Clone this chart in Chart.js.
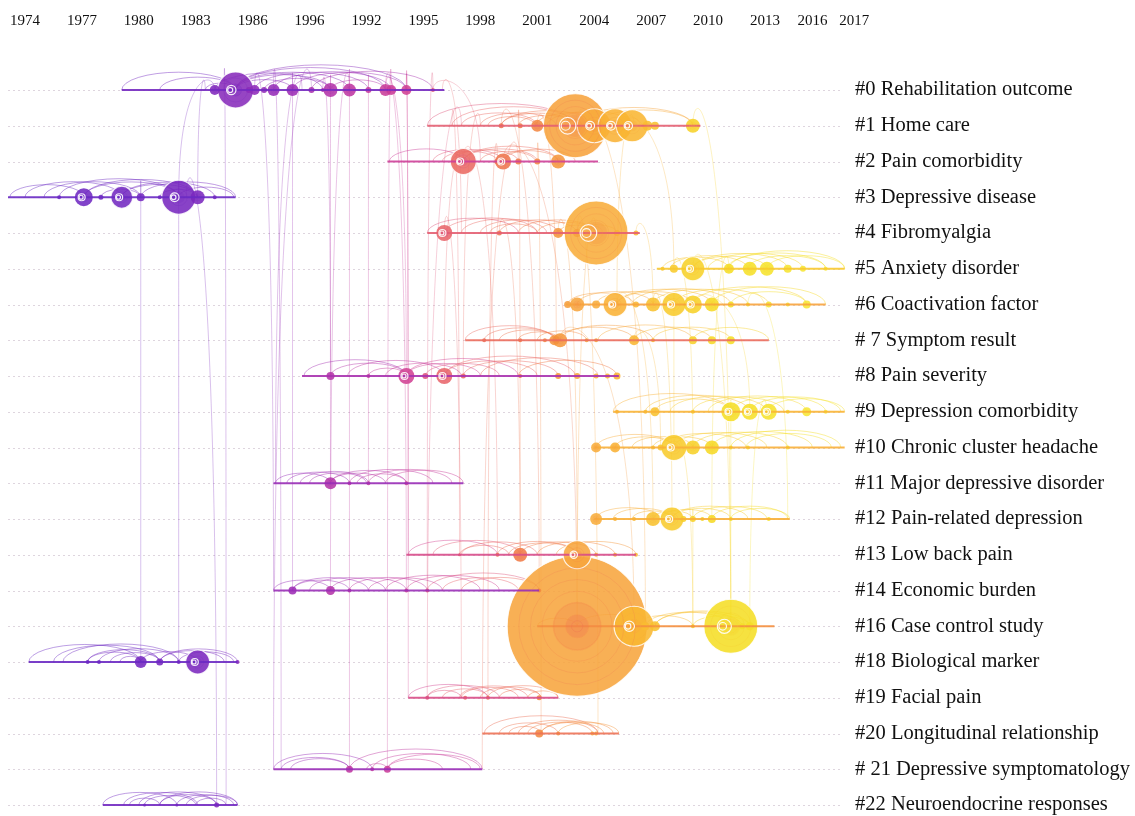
<!DOCTYPE html>
<html>
<head>
<meta charset="utf-8">
<script src="https://cdn.jsdelivr.net/npm/chart.js@4.4.1/dist/chart.umd.min.js"></script>
<style>
  html, body { margin: 0; background: #fff; }
  #wrap { width: 1135px; height: 816px; }
</style>
</head>
<body>
<div id="wrap"><canvas id="timeline"></canvas></div>
<script>
// Cluster timeline (CiteSpace style): one row per cluster, nodes placed by year.
const clusterLabels = [
  '#0 Rehabilitation outcome', '#1 Home care', '#2 Pain comorbidity', '#3 Depressive disease',
  '#4 Fibromyalgia', '#5 Anxiety disorder', '#6 Coactivation factor', '# 7 Symptom result',
  '#8 Pain severity', '#9 Depression comorbidity', '#10 Chronic cluster headache',
  '#11 Major depressive disorder', '#12 Pain-related depression', '#13 Low back pain',
  '#14 Economic burden', '#16 Case control study', '#18 Biological marker', '#19 Facial pain',
  '#20 Longitudinal relationship', '# 21 Depressive symptomatology', '#22 Neuroendocrine responses'
];

// top axis: printed labels and where they sit on the time axis
const tickLabels = ['1974', '1977', '1980', '1983', '1986', '1996', '1992', '1995', '1998',
  '2001', '2004', '2007', '2010', '2013', '2016', '2017'];
const tickPos = [1974, 1977, 1980, 1983, 1986, 1989, 1992, 1995, 1998,
  2001, 2004, 2007, 2010, 2013, 2015.5, 2017.7];

// time span of each cluster row
const clusterStart = [1979.1, 1995.2, 1993.1, 1973.1, 1995.2, 2007.3, 2002.5, 1997.2, 1988.6, 2005.0,
  2004.0, 1987.1, 2004.0, 1994.1, 1987.1, 2001.0, 1974.2, 1994.2, 1998.1, 1987.1, 1978.1];
const clusterEnd = [1996.1, 2009.6, 2004.2, 1985.1, 2006.4, 2017.2, 2016.2, 2013.2, 2005.3, 2017.2,
  2017.2, 1997.1, 2014.3, 2006.2, 2001.1, 2013.5, 1985.2, 2002.1, 2005.3, 1998.1, 1985.2];

// nodes per cluster: [year, radius]
const clusterNodes = [
  [[1984.0, 5], [1985.1, 18], [1985.8, 3], [1986.1, 5], [1986.6, 3], [1987.1, 6], [1988.1, 6], [1989.1, 3],
   [1989.7, 2], [1990.1, 7], [1991.1, 6.5], [1992.1, 3], [1993.0, 6], [1993.3, 5], [1994.1, 5], [1995.5, 2]],
  [[1999.1, 2.5], [2000.1, 2.5], [2001.0, 6], [2003.0, 32], [2004.0, 17], [2005.1, 17], [2006.0, 16],
   [2006.8, 5], [2007.2, 4], [2009.2, 7]],
  [[1997.1, 13], [1998.9, 3], [1999.2, 8], [2000.0, 3], [2001.0, 3], [2002.1, 7]],
  [[1975.8, 2], [1977.1, 9], [1978.0, 2.5], [1979.1, 11], [1980.1, 4], [1981.1, 2], [1982.1, 17],
   [1983.1, 7], [1984.0, 2]],
  [[1996.1, 8], [1999.0, 2.5], [2002.1, 5], [2003.1, 4], [2004.1, 32], [2005.2, 3], [2006.2, 2.5]],
  [[2007.6, 2], [2008.2, 4], [2009.2, 12], [2011.1, 5], [2012.2, 7], [2013.1, 7], [2014.2, 4],
   [2015.0, 3], [2016.2, 2]],
  [[2002.6, 3.5], [2003.1, 7], [2004.1, 4], [2005.1, 12], [2006.2, 3], [2007.1, 7], [2008.2, 12],
   [2009.2, 9], [2010.2, 7], [2011.2, 3], [2012.1, 2], [2013.2, 3], [2014.2, 2], [2015.2, 4]],
  [[1998.2, 2], [2000.1, 2], [2001.4, 2], [2001.9, 5], [2002.2, 7], [2003.6, 2], [2004.1, 2],
   [2006.1, 5], [2007.1, 2], [2009.2, 4], [2010.2, 4], [2011.2, 4]],
  [[1990.1, 4], [1992.1, 2], [1994.1, 8], [1995.1, 3], [1996.1, 8], [1997.1, 2.5], [2000.1, 2],
   [2002.1, 3], [2003.1, 3], [2004.1, 2.5], [2004.7, 2.5], [2005.2, 3.5]],
  [[2005.2, 2], [2006.7, 2], [2007.2, 4.5], [2009.2, 2], [2011.2, 10], [2012.2, 8], [2013.2, 8],
   [2014.2, 2], [2015.2, 4.5], [2016.2, 2]],
  [[2004.1, 5], [2005.1, 5], [2007.1, 2], [2007.5, 3], [2008.2, 13], [2009.2, 7], [2010.2, 7],
   [2011.2, 2], [2012.1, 2], [2014.2, 2]],
  [[1990.1, 6], [1991.1, 2], [1992.1, 2], [1994.1, 2]],
  [[2004.1, 6], [2005.1, 2], [2006.1, 2], [2007.1, 7], [2008.1, 12], [2008.7, 3], [2009.2, 3],
   [2009.7, 2], [2010.2, 4], [2011.2, 2], [2013.2, 2]],
  [[1996.9, 1.5], [1998.9, 2], [2000.1, 7], [2003.1, 14], [2004.1, 2], [2005.1, 2], [2006.2, 2]],
  [[1988.1, 4], [1990.1, 4.5], [1991.1, 2], [1994.1, 2], [1995.2, 2], [2001.1, 2]],
  [[2003.1, 70], [2006.1, 20], [2006.7, 4], [2007.2, 5], [2009.2, 2], [2011.2, 27], [2011.8, 3], [2012.2, 4]],
  [[1977.3, 2], [1977.9, 2], [1980.1, 6], [1981.1, 3.5], [1982.1, 2], [1983.1, 12], [1985.2, 2]],
  [[1995.2, 2], [1997.2, 2], [1998.4, 2], [2001.1, 2.5]],
  [[2001.1, 4], [2002.1, 2], [2003.9, 2], [2004.1, 2]],
  [[1991.1, 3.5], [1992.3, 2], [1993.1, 3.5]],
  [[1980.3, 1.5], [1982.0, 1.5], [1984.1, 2.5]]
];

// co-citation arcs inside each cluster: [fromYear, toYear]
const clusterArcs = [
  [[1979.1, 1985.1], [1981.1, 1985.1], [1983.5, 1985.1], [1985.1, 1988.1], [1985.1, 1990.1], [1985.1, 1991.1],
   [1985.1, 1993.0], [1985.1, 1994.1], [1986.1, 1992.1], [1987.1, 1993.3], [1988.1, 1994.1], [1989.1, 1995.5],
   [1990.1, 1993.0], [1984.0, 1989.7], [1986.6, 1990.1]],
  [[1995.2, 2003.0], [1996.5, 2003.0], [1997.0, 2001.0], [1998.0, 2002.0], [1999.1, 2003.0], [1999.1, 2004.0],
   [2000.0, 2003.0], [2000.9, 2005.1], [2001.5, 2006.1], [2003.0, 2009.2], [2004.0, 2009.2], [1998.4, 2000.9]],
  [[1993.2, 1997.1], [1995.5, 1999.2], [1996.5, 2000.0], [1997.1, 2001.0], [1997.1, 2002.1], [1998.0, 2000.9],
   [1998.9, 2002.1], [1999.2, 2003.0], [1996.0, 1998.9]],
  [[1973.2, 1977.1], [1974.0, 1979.1], [1975.0, 1980.1], [1975.8, 1982.1], [1977.1, 1982.1], [1977.1, 1983.1],
   [1978.0, 1980.1], [1979.1, 1983.1], [1979.1, 1984.0], [1980.1, 1985.1], [1981.1, 1983.1], [1982.1, 1985.0]],
  [[1995.2, 2000.0], [1996.1, 2001.0], [1997.0, 2001.5], [1998.0, 2002.1], [1999.0, 2003.1], [2000.0, 2004.1],
   [2001.0, 2004.1], [2002.1, 2004.1], [2003.0, 2005.2], [1998.5, 2001.0]],
  [[2008.0, 2012.1], [2009.2, 2013.1], [2009.2, 2014.2], [2010.0, 2015.0], [2011.0, 2016.2], [2011.1, 2017.2],
   [2012.1, 2016.2], [2013.1, 2017.2], [2007.6, 2011.1]],
  [[2002.6, 2006.1], [2003.1, 2007.1], [2004.1, 2008.2], [2005.2, 2009.2], [2005.2, 2010.2], [2006.0, 2011.2],
   [2007.1, 2012.1], [2008.2, 2013.2], [2009.2, 2015.2], [2010.2, 2016.2], [2011.2, 2015.2]],
  [[1997.2, 2001.9], [1998.2, 2002.0], [1999.0, 2002.0], [2000.0, 2002.2], [2001.0, 2003.6], [2002.0, 2006.1],
   [2002.2, 2007.1], [2004.2, 2009.2], [2006.1, 2010.2], [2007.1, 2011.2], [2009.2, 2013.2]],
  [[1988.7, 1994.1], [1990.1, 1994.1], [1991.0, 1996.1], [1992.1, 1994.1], [1993.0, 1997.0], [1994.1, 1998.0],
   [1994.1, 2000.0], [1995.1, 1999.0], [1996.1, 2001.0], [1997.1, 2002.1], [1998.0, 2004.2], [2000.0, 2005.2],
   [1996.1, 2003.0]],
  [[2005.0, 2011.2], [2006.7, 2012.2], [2007.2, 2011.2], [2008.0, 2013.1], [2009.2, 2014.0], [2010.0, 2015.2],
   [2011.2, 2016.2], [2012.2, 2017.0], [2013.1, 2017.2]],
  [[2004.1, 2008.2], [2005.1, 2008.2], [2006.0, 2009.2], [2007.1, 2010.2], [2007.5, 2012.0], [2008.2, 2013.1],
   [2009.2, 2014.2], [2010.2, 2015.5], [2011.2, 2017.0], [2012.0, 2016.5]],
  [[1987.2, 1990.1], [1987.8, 1991.1], [1988.5, 1992.1], [1990.1, 1993.0], [1990.1, 1994.1], [1991.1, 1995.5],
   [1992.1, 1996.5], [1993.0, 1997.1], [1989.0, 1992.0], [1991.5, 1994.1]],
  [[2004.1, 2007.5], [2005.0, 2008.1], [2006.0, 2008.1], [2007.1, 2009.2], [2007.5, 2010.2], [2008.1, 2011.2],
   [2008.1, 2012.1], [2009.2, 2013.1], [2010.2, 2014.2], [2011.2, 2014.3]],
  [[1994.2, 1998.9], [1995.5, 2000.1], [1997.0, 2001.0], [1998.9, 2003.1], [1999.5, 2003.1], [2000.1, 2004.1],
   [2001.0, 2005.1], [2002.0, 2006.2], [1996.9, 1999.5]],
  [[1987.1, 1990.1], [1988.1, 1991.1], [1988.1, 1992.1], [1989.0, 1993.0], [1990.1, 1994.1], [1991.1, 1995.2],
   [1992.1, 1996.0], [1993.0, 1998.0], [1994.1, 1999.0], [1995.2, 2001.1], [1996.0, 2000.0], [1997.0, 2001.1]],
  [[2003.1, 2006.7], [2006.1, 2009.2], [2006.7, 2011.2], [2007.2, 2011.8], [2007.2, 2012.2], [2009.2, 2012.2],
   [2001.0, 2003.1]],
  [[1974.2, 1980.1], [1975.5, 1981.1], [1976.0, 1982.1], [1977.3, 1980.1], [1977.3, 1981.1], [1977.9, 1982.1],
   [1978.5, 1981.1], [1980.1, 1983.1], [1981.1, 1984.5], [1981.1, 1985.2], [1982.1, 1985.0], [1979.0, 1980.1]],
  [[1994.2, 1998.4], [1995.2, 1999.0], [1996.0, 1998.4], [1997.0, 2000.0], [1998.0, 2001.2], [1998.4, 2002.1],
   [1999.0, 2001.2], [1996.9, 2000.5], [1995.2, 1997.0], [2000.5, 2002.1]],
  [[1998.2, 2004.2], [1999.0, 2002.1], [2000.0, 2004.2], [2001.2, 2004.5], [2001.2, 2005.0], [2002.1, 2005.3],
   [1999.5, 2001.2], [2000.5, 2003.9]],
  [[1987.1, 1992.3], [1987.5, 1991.1], [1988.0, 1991.1], [1991.1, 1998.1], [1992.3, 1997.5], [1993.1, 1998.0],
   [1993.1, 1996.0], [1992.0, 1993.1]],
  [[1978.1, 1982.0], [1979.2, 1983.1], [1980.0, 1984.1], [1980.3, 1983.0], [1981.1, 1984.1], [1981.1, 1985.2],
   [1982.0, 1985.0], [1979.5, 1981.1], [1983.0, 1984.6], [1982.5, 1985.2]]
];

// links between clusters: [upperRow, year, lowerRow, year]
const crossLinks = [
  [0, 1984.0, 3, 1982.1], [0, 1983.5, 3, 1983.1], [3, 1982.1, 16, 1982.1], [3, 1980.1, 16, 1980.1],
  [3, 1982.5, 20, 1984.1], [0, 1984.5, 20, 1984.6],
  [0, 1988.1, 14, 1988.1], [0, 1989.1, 19, 1987.1], [0, 1990.1, 11, 1990.1], [0, 1989.7, 8, 1990.1],
  [0, 1991.1, 14, 1990.1], [0, 1993.0, 8, 1994.1], [0, 1993.3, 19, 1993.1], [0, 1994.1, 13, 1994.2],
  [0, 1994.1, 17, 1994.2], [0, 1992.1, 11, 1992.1], [0, 1995.5, 14, 1995.2], [0, 1986.1, 14, 1987.1],
  [0, 1987.1, 19, 1987.5], [0, 1991.1, 19, 1991.1], [0, 1993.0, 14, 1994.1], [0, 1995.5, 2, 1998.0],
  [0, 1996.0, 4, 1997.0], [0, 1988.6, 11, 1987.2],
  [1, 1996.5, 13, 1996.9], [1, 1998.0, 8, 1997.1], [2, 1997.1, 13, 1998.9], [2, 1998.9, 17, 1998.4],
  [2, 1999.2, 15, 2003.1], [4, 1996.1, 17, 1997.0], [4, 1999.0, 13, 2000.1], [2, 2001.0, 18, 2001.2],
  [1, 2000.0, 13, 2000.1], [4, 2002.1, 13, 2003.1], [1, 2001.0, 7, 2002.0], [4, 2004.1, 15, 2003.1],
  [2, 1997.1, 8, 1996.1], [1, 1999.1, 14, 2001.1], [4, 2003.1, 18, 2004.2], [7, 2002.2, 15, 2006.1],
  [1, 2003.0, 15, 2006.7], [2, 2000.0, 19, 1998.1], [1, 1997.0, 17, 1995.2],
  [1, 2009.2, 15, 2011.2], [5, 2009.2, 15, 2011.2], [6, 2008.2, 10, 2008.2], [5, 2011.1, 12, 2010.2],
  [6, 2005.2, 12, 2007.1], [9, 2011.2, 15, 2011.2], [10, 2008.2, 15, 2009.2], [6, 2009.2, 9, 2012.2],
  [5, 2008.2, 10, 2009.2], [6, 2012.1, 12, 2014.2], [7, 2006.1, 10, 2007.5], [6, 2007.1, 12, 2008.1],
  [1, 2006.1, 6, 2005.2], [1, 2005.1, 5, 2008.2], [4, 2006.2, 6, 2007.1], [9, 2013.1, 15, 2012.2],
  [12, 2009.2, 15, 2009.2]
];

// year -> colour ramp (purple -> magenta -> orange -> yellow)
const ramp = [
  [1973, [104, 42, 196]], [1983, [122, 40, 190]], [1988, [156, 46, 182]], [1991, [190, 56, 162]],
  [1994, [208, 64, 150]], [1996, [232, 100, 108]], [2000, [240, 122, 72]], [2002, [245, 150, 60]],
  [2003.5, [248, 170, 62]], [2006, [249, 182, 50]], [2008, [248, 202, 44]], [2011, [245, 222, 36]],
  [2018, [248, 236, 64]]
];
function colorAt(yr) {
  if (yr <= ramp[0][0]) return ramp[0][1];
  for (let i = 1; i < ramp.length; i++) {
    if (yr <= ramp[i][0]) {
      const [y0, c0] = ramp[i - 1], [y1, c1] = ramp[i];
      const t = (yr - y0) / (y1 - y0);
      return c0.map((v, k) => Math.round(v + (c1[k] - v) * t));
    }
  }
  return ramp[ramp.length - 1][1];
}
function rgba(c, a) { return `rgba(${c[0]},${c[1]},${c[2]},${a})`; }

const serif = '"Liberation Serif", "DejaVu Serif", serif';

// row baselines
const lineSets = clusterLabels.map((_, row) => ({
  type: 'line',
  data: [{ x: clusterStart[row], y: row }, { x: clusterEnd[row], y: row }],
  borderColor: rgba(colorAt(clusterStart[row] + 0.5), 0.9),
  borderWidth: 2,
  pointRadius: 0,
  fill: false,
}));

// bubbles, big first so small ones stay visible on top
const bubbles = [];
clusterNodes.forEach((list, row) => list.forEach(([yr, r]) => bubbles.push({ x: yr, y: row, r })));
bubbles.sort((a, b) => b.r - a.r);

const linkPlugin = {
  id: 'links',
  beforeDatasetsDraw(chart) {
    const { ctx, scales: { x, y }, chartArea } = chart;
    ctx.save();
    // dotted row guides
    ctx.setLineDash([2, 3]);
    ctx.lineWidth = 1;
    ctx.strokeStyle = 'rgba(200,185,200,0.6)';
    clusterLabels.forEach((_, row) => {
      const py = Math.round(y.getPixelForValue(row)) + 0.5;
      ctx.beginPath();
      ctx.moveTo(chartArea.left, py);
      ctx.lineTo(x.getPixelForValue(2017.1), py);
      ctx.stroke();
    });
    ctx.setLineDash([]);
    // inter-cluster links
    ctx.lineWidth = 0.9;
    crossLinks.forEach(([ra, ya, rb, yb]) => {
      const x1 = x.getPixelForValue(ya), y1 = y.getPixelForValue(ra);
      const x2 = x.getPixelForValue(yb), y2 = y.getPixelForValue(rb);
      const top = y1 - 14 - 0.06 * (y2 - y1);
      ctx.strokeStyle = rgba(colorAt(Math.min(ya, yb)), 0.32);
      ctx.beginPath();
      ctx.moveTo(x1, y1);
      ctx.bezierCurveTo(x1, top, x2, top, x2, y2);
      ctx.stroke();
    });
    // arcs inside clusters
    ctx.lineWidth = 1;
    clusterArcs.forEach((arcs, row) => {
      const py = y.getPixelForValue(row);
      arcs.forEach(([a, b]) => {
        const x1 = x.getPixelForValue(a), x2 = x.getPixelForValue(b);
        const w = x2 - x1;
        const h = Math.min(26, 3 + 0.13 * w);
        ctx.strokeStyle = rgba(colorAt(a), 0.45);
        ctx.beginPath();
        ctx.ellipse((x1 + x2) / 2, py, w / 2, h, 0, Math.PI, 2 * Math.PI);
        ctx.stroke();
      });
    });
    ctx.restore();
  }
};

// citation "tree rings" inside the bigger nodes
const ringPlugin = {
  id: 'rings',
  afterDatasetsDraw(chart) {
    const ctx = chart.ctx;
    const meta = chart.getDatasetMeta(lineSets.length);
    ctx.save();
    meta.data.forEach((el, i) => {
      const d = bubbles[i];
      const r = d.r;
      if (r < 5) return;
      const n = Math.min(6, Math.max(2, Math.floor(r / 6)));
      ctx.lineWidth = 1;
      for (let k = 1; k < n; k++) {
        ctx.strokeStyle = rgba(colorAt(d.x - 2 - k * 0.4), 0.22);
        ctx.beginPath();
        ctx.arc(el.x, el.y, r * k / n, 0, Math.PI * 2);
        ctx.stroke();
      }
      ctx.fillStyle = rgba(colorAt(d.x - 3), 0.22);
      ctx.beginPath();
      ctx.arc(el.x, el.y, r * 0.35, 0, Math.PI * 2);
      ctx.fill();
      if (r > 40) {
        // reddish core of the largest node
        ctx.fillStyle = rgba(colorAt(d.x - 4), 0.3);
        ctx.beginPath();
        ctx.arc(el.x, el.y, r * 0.16, 0, Math.PI * 2);
        ctx.fill();
        ctx.strokeStyle = rgba(colorAt(d.x - 4), 0.35);
        ctx.beginPath();
        ctx.arc(el.x, el.y, r * 0.08, 0, Math.PI * 2);
        ctx.stroke();
        return;
      }
      if (r >= 8) {
        const off = r * 0.3;
        ctx.strokeStyle = 'rgba(255,255,255,0.9)';
        ctx.lineWidth = 1.2;
        ctx.beginPath();
        ctx.arc(el.x - off, el.y, Math.max(2, r * 0.14), 0, Math.PI * 2);
        ctx.stroke();
        ctx.beginPath();
        ctx.arc(el.x - off * 0.8, el.y, Math.max(3.5, r * 0.26), 0, Math.PI * 2);
        ctx.stroke();
      }
    });
    ctx.restore();
  }
};

new Chart(document.getElementById('timeline'), {
  type: 'bubble',
  data: {
    datasets: [
      ...lineSets,
      {
        type: 'bubble',
        data: bubbles,
        backgroundColor: (c) => rgba(colorAt(c.raw.x), 0.88),
        borderColor: 'rgba(255,255,255,0.85)',
        borderWidth: (c) => (c.raw.r >= 10 ? 1.2 : 0),
      }
    ]
  },
  options: {
    responsive: true,
    maintainAspectRatio: false,
    animation: false,
    events: [],
    layout: { autoPadding: false, padding: { left: 8, top: 0, right: 0, bottom: 0 } },
    plugins: { legend: { display: false }, tooltip: { enabled: false } },
    scales: {
      x: {
        type: 'linear',
        position: 'top',
        min: 1973.104,
        max: 2017.745,
        grid: { display: false, drawTicks: false },
        border: { display: false },
        afterFit: (s) => { s.height = 40; s.paddingLeft = 0; s.paddingRight = 0; },
        afterBuildTicks: (s) => { s.ticks = tickPos.map((v) => ({ value: v })); },
        ticks: {
          autoSkip: false,
          maxRotation: 0,
          padding: 10,
          color: '#111',
          font: { family: serif, size: 15 },
          callback: (v, i) => tickLabels[i],
        },
      },
      y: {
        type: 'linear',
        position: 'right',
        reverse: true,
        min: -1.3986,
        max: 20.307,
        grid: { display: false, drawTicks: false },
        border: { display: false },
        afterFit: (s) => { s.width = 280; s.paddingTop = 0; s.paddingBottom = 0; },
        afterBuildTicks: (s) => { s.ticks = clusterLabels.map((_, i) => ({ value: i })); },
        ticks: {
          autoSkip: false,
          padding: 0,
          color: '#111',
          font: { family: serif, size: 20.5 },
          callback: (v) => clusterLabels[v],
        },
      },
    },
  },
  plugins: [linkPlugin, ringPlugin],
});
</script>
</body>
</html>
